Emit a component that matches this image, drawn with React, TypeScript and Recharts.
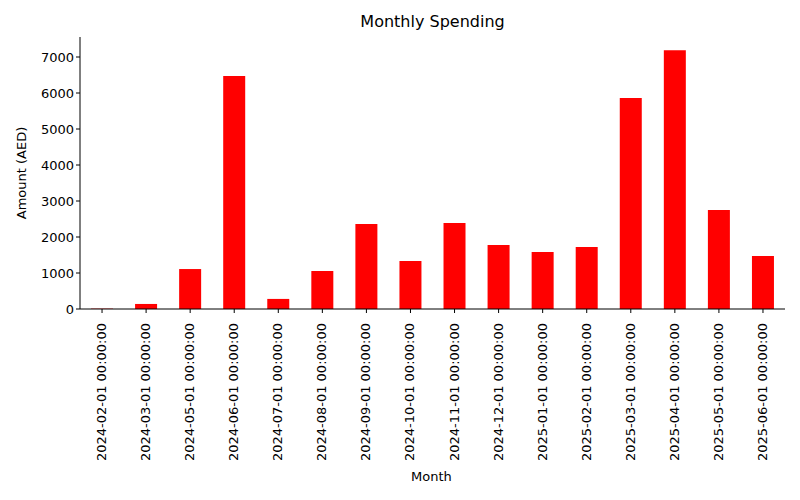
import React from "react";
import { Bar, BarChart, XAxis, YAxis } from "recharts";

const months: string[] = [
  "2024-02-01 00:00:00",
  "2024-03-01 00:00:00",
  "2024-05-01 00:00:00",
  "2024-06-01 00:00:00",
  "2024-07-01 00:00:00",
  "2024-08-01 00:00:00",
  "2024-09-01 00:00:00",
  "2024-10-01 00:00:00",
  "2024-11-01 00:00:00",
  "2024-12-01 00:00:00",
  "2025-01-01 00:00:00",
  "2025-02-01 00:00:00",
  "2025-03-01 00:00:00",
  "2025-04-01 00:00:00",
  "2025-05-01 00:00:00",
  "2025-06-01 00:00:00",
];

const amounts: number[] = [
  10, 140, 1110, 6470, 280, 1055, 2360, 1330, 2390, 1780, 1580, 1720, 5860, 7190, 2750, 1470,
];

const yTicks: number[] = [0, 1000, 2000, 3000, 4000, 5000, 6000, 7000];

const data = months.map((month, i) => ({ month, amount: amounts[i] }));

const font = "DejaVu Sans, sans-serif";

const MonthTick = (props: any) => {
  const { x, y, payload } = props;
  return (
    <text
      x={0}
      y={0}
      transform={`translate(${x + 4},${y + 8}) rotate(-90)`}
      textAnchor="end"
      fontSize={13}
      fontFamily={font}
      fill="#000"
    >
      {payload.value}
    </text>
  );
};

export default function App() {
  return (
    <div style={{ margin: -8, position: "relative", width: 800, height: 500, background: "#fff" }}>
      <div
        style={{
          position: "absolute",
          top: 12,
          left: 80,
          width: 705,
          textAlign: "center",
          fontFamily: font,
          fontSize: 16,
        }}
      >
        Monthly Spending
      </div>
      <div
        style={{
          position: "absolute",
          left: 411,
          top: 469,
          fontFamily: font,
          fontSize: 13,
        }}
      >
        Month
      </div>
      <div
        style={{
          position: "absolute",
          left: 21,
          top: 173,
          transform: "translate(-50%,-50%) rotate(-90deg)",
          fontFamily: font,
          fontSize: 13,
          whiteSpace: "nowrap",
        }}
      >
        Amount (AED)
      </div>
      <BarChart
        width={800}
        height={500}
        data={data}
        margin={{ top: 37, right: 15, left: 0, bottom: 0 }}
        barCategoryGap="25%"
      >
        <XAxis
          dataKey="month"
          interval={0}
          height={191}
          tick={<MonthTick />}
          tickLine={{ stroke: "#000" }}
          axisLine={{ stroke: "#000" }}
          tickSize={4}
        />
        <XAxis xAxisId="top" orientation="top" dataKey="month" height={0} tick={false} tickLine={false} axisLine={{ stroke: "#000" }} />
        <YAxis
          width={80}
          domain={[0, 7556]}
          ticks={yTicks}
          tickSize={4}
          tick={{ fontSize: 13, fontFamily: font, fill: "#000" }}
          tickLine={{ stroke: "#000" }}
          axisLine={{ stroke: "#000" }}
        />
        <YAxis yAxisId="right" orientation="right" width={0} tick={false} tickLine={false} axisLine={{ stroke: "#000" }} />
        <Bar dataKey="amount" fill="#ff0000" isAnimationActive={false} />
      </BarChart>
    </div>
  );
}
